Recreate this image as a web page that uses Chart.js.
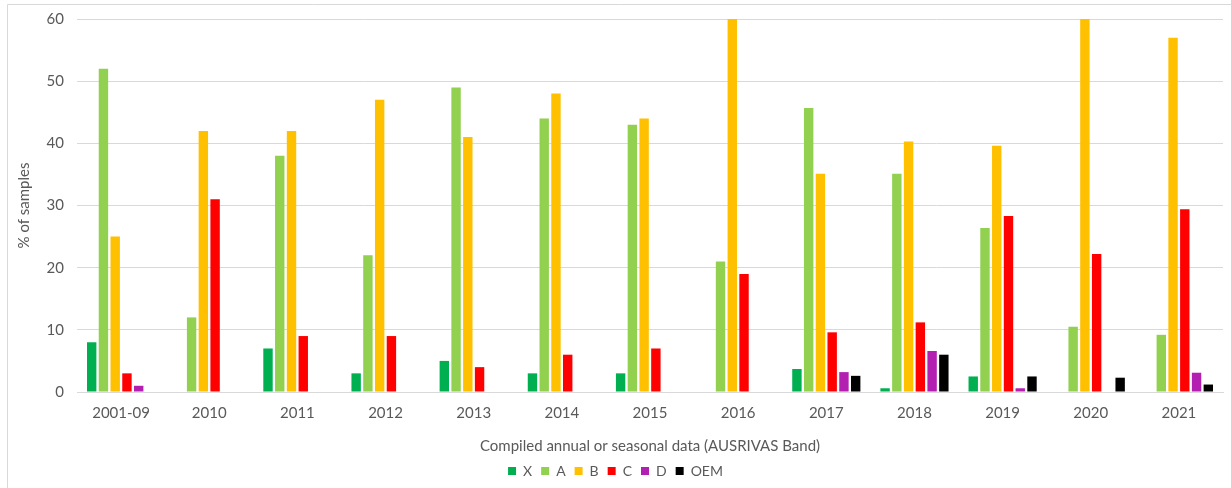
<!DOCTYPE html>
<html>
<head>
<meta charset="utf-8">
<script src="https://cdn.jsdelivr.net/npm/chart.js@4/dist/chart.umd.min.js"></script>
<style>
  html, body { margin: 0; padding: 0; background: #fff; }
  #wrap { position: relative; width: 1231px; height: 488px; }
</style>
</head>
<body>
<div id="wrap"><canvas id="c" width="1231" height="488"></canvas></div>
<script>
// Categories (compiled annual / seasonal data)
const categories = ['2001-09', '2010', '2011', '2012', '2013', '2014', '2015', '2016', '2017', '2018', '2019', '2020', '2021'];

// % of samples in each AUSRIVAS band
const bandX   = [8, 0, 7, 3, 5, 3, 3, 0, 3.7, 0.6, 2.5, 0, 0];
const bandA   = [52, 12, 38, 22, 49, 44, 43, 21, 45.7, 35.1, 26.4, 10.5, 9.2];
const bandB   = [25, 42, 42, 47, 41, 48, 44, 60, 35.1, 40.3, 39.6, 60, 57];
const bandC   = [3, 31, 9, 9, 4, 6, 7, 19, 9.6, 11.2, 28.3, 22.2, 29.4];
const bandD   = [1, 0, 0, 0, 0, 0, 0, 0, 3.2, 6.6, 0.6, 0, 3.1];
const bandOEM = [0, 0, 0, 0, 0, 0, 0, 0, 2.6, 6.0, 2.5, 2.3, 1.2];

// Y-axis ticks
const yTicks = [0, 10, 20, 30, 40, 50, 60];

const textColor = '#595959';
const gridColor = '#d9d9d9';
const font = 'Lato, "Liberation Sans", sans-serif';

function series(label, data, color) {
  return {
    label, data,
    backgroundColor: color,
    borderWidth: 0,
    categoryPercentage: 0.8,
    barPercentage: 0.8
  };
}

// light frame along the top and left of the chart
const framePlugin = {
  id: 'frame',
  beforeDraw(chart) {
    const ctx = chart.ctx;
    ctx.save();
    ctx.fillStyle = '#ffffff';
    ctx.fillRect(0, 0, chart.width, chart.height);
    ctx.strokeStyle = gridColor;
    ctx.lineWidth = 1;
    ctx.beginPath();
    ctx.moveTo(7.5, chart.height);
    ctx.lineTo(7.5, 4.5);
    ctx.lineTo(chart.width, 4.5);
    ctx.stroke();
    ctx.restore();
  }
};

new Chart(document.getElementById('c'), {
  type: 'bar',
  data: {
    labels: categories,
    datasets: [
      series('X', bandX, '#00b050'),
      series('A', bandA, '#92d050'),
      series('B', bandB, '#ffc000'),
      series('C', bandC, '#ff0000'),
      series('D', bandD, '#b31fb0'),
      series('OEM', bandOEM, '#000000')
    ]
  },
  options: {
    responsive: false,
    animation: false,
    layout: { padding: { left: 8, right: 8, top: 19, bottom: 0 } },
    plugins: {
      tooltip: { enabled: false },
      legend: {
        position: 'bottom',
        labels: {
          boxWidth: 8, boxHeight: 8,
          padding: 9,
          color: textColor,
          font: { family: font, size: 14 }
        }
      }
    },
    scales: {
      x: {
        grid: { display: false, drawTicks: false },
        border: { display: true, color: gridColor, width: 1 },
        ticks: { color: textColor, font: { family: font, size: 15 }, padding: 12, maxRotation: 0 },
        title: {
          display: true,
          text: 'Compiled annual or seasonal data (AUSRIVAS Band)',
          color: textColor,
          font: { family: font, size: 15 },
          padding: { top: 12, bottom: 0 }
        },
        afterFit(scale) { scale.height = 63; }
      },
      y: {
        min: 0, max: 60,
        afterBuildTicks(scale) { scale.ticks = yTicks.map(v => ({ value: v })); },
        grid: { color: gridColor, drawTicks: false },
        border: { display: false },
        ticks: { color: textColor, font: { family: font, size: 15, lineHeight: 1 }, padding: 13 },
        title: {
          display: true,
          text: '% of samples',
          color: textColor,
          font: { family: font, size: 15 },
          padding: { top: 7, bottom: 6 }
        },
        afterFit(scale) { scale.width = 69; scale.paddingTop = 0; }
      }
    }
  },
  plugins: [framePlugin]
});
</script>
</body>
</html>
